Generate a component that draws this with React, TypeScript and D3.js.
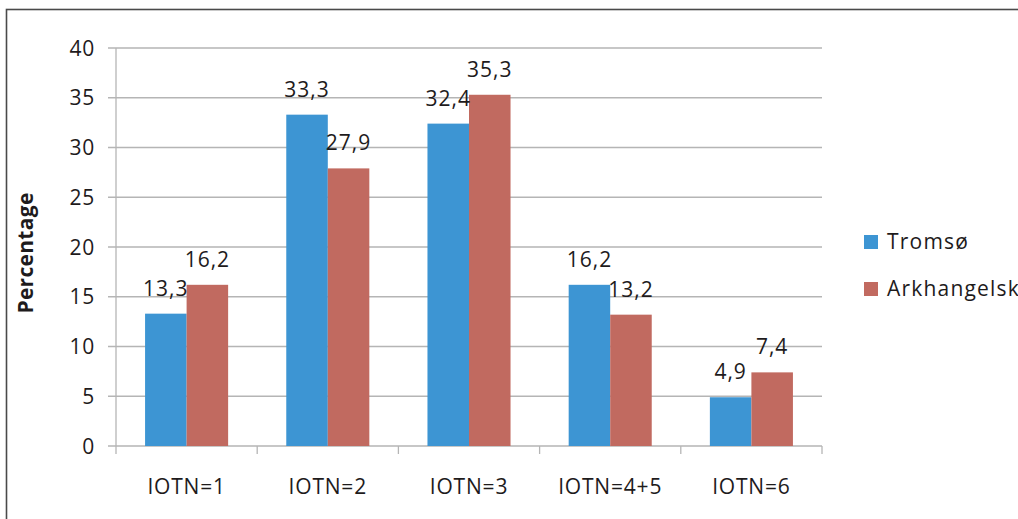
import React, { useEffect, useRef } from 'react';
import * as d3 from 'd3';

const categories = ['IOTN=1', 'IOTN=2', 'IOTN=3', 'IOTN=4+5', 'IOTN=6'];
const seriesNames = ['Tromsø', 'Arkhangelsk'];
const tromso = [13.3, 33.3, 32.4, 16.2, 4.9];
const arkhangelsk = [16.2, 27.9, 35.3, 13.2, 7.4];
const yTicks = [0, 5, 10, 15, 20, 25, 30, 35, 40];

const App = () => {
  const svgRef = useRef(null);

  useEffect(() => {
    const width = 1018;
    const height = 519;
    const svg = d3.select(svgRef.current);
    svg.selectAll('*').remove(); // Clear previous content

    const font = '"Open Sans", sans-serif';
    const textColor = '#1e1b1c';
    const gridColor = '#b5b5b5';
    const colors = d3.scaleOrdinal<string>().domain(seriesNames).range(['#3d95d3', '#c16a60']);

    const x = d3.scaleBand().domain(categories).range([116, 822]);
    const xInner = d3.scaleBand().domain(seriesNames).range([0, x.bandwidth()]).paddingOuter(0.7);
    const y = d3.scaleLinear().domain([0, 40]).range([446, 48]);

    // outer frame
    svg.append('rect')
      .attr('x', 6.5).attr('y', 9.5)
      .attr('width', width + 20).attr('height', height + 20)
      .attr('fill', 'none').attr('stroke', '#4a4a4a').attr('stroke-width', 1.6);

    // gridlines + y ticks
    const grid = svg.append('g');
    grid.selectAll('line')
      .data(yTicks)
      .enter()
      .append('line')
      .attr('x1', 108).attr('x2', 822)
      .attr('y1', (d) => y(d)).attr('y2', (d) => y(d))
      .attr('stroke', gridColor).attr('stroke-width', 1.3);

    grid.selectAll('text')
      .data(yTicks)
      .enter()
      .append('text')
      .attr('x', 95).attr('y', (d) => y(d))
      .attr('dy', '0.36em')
      .attr('text-anchor', 'end')
      .style('font-family', font).style('font-size', '21px').style('letter-spacing', '0.8px')
      .attr('fill', textColor)
      .text((d) => d);

    // y axis line
    svg.append('line')
      .attr('x1', 116).attr('x2', 116).attr('y1', y(40)).attr('y2', y(0))
      .attr('stroke', gridColor).attr('stroke-width', 1.3);

    // x axis ticks
    const bounds = categories.map((c) => x(c)).concat([822]);
    svg.append('g').selectAll('line')
      .data(bounds)
      .enter()
      .append('line')
      .attr('x1', (d) => d).attr('x2', (d) => d)
      .attr('y1', y(0)).attr('y2', y(0) + 8)
      .attr('stroke', gridColor).attr('stroke-width', 1.3);

    // bars
    const groups = svg.append('g').selectAll('g')
      .data(categories)
      .enter()
      .append('g')
      .attr('transform', (c) => `translate(${x(c)},0)`);

    const rows = (c, i) => [
      { name: seriesNames[0], value: tromso[i] },
      { name: seriesNames[1], value: arkhangelsk[i] },
    ];

    groups.selectAll('rect')
      .data(rows)
      .enter()
      .append('rect')
      .attr('x', (d) => xInner(d.name))
      .attr('y', (d) => y(d.value))
      .attr('width', xInner.bandwidth())
      .attr('height', (d) => y(0) - y(d.value))
      .attr('fill', (d) => colors(d.name));

    groups.selectAll('text')
      .data(rows)
      .enter()
      .append('text')
      .attr('x', (d) => xInner(d.name) + xInner.bandwidth() / 2)
      .attr('y', (d) => y(d.value) - 18)
      .attr('text-anchor', 'middle')
      .style('font-family', font).style('font-size', '21px').style('letter-spacing', '1px')
      .attr('fill', textColor)
      .text((d) => d3.format('.1f')(d.value).replace('.', ','));

    // category labels
    svg.append('g').selectAll('text')
      .data(categories)
      .enter()
      .append('text')
      .attr('x', (c) => x(c) + x.bandwidth() / 2)
      .attr('y', 494)
      .attr('text-anchor', 'middle')
      .style('font-family', font).style('font-size', '21px').style('letter-spacing', '0.8px')
      .attr('fill', textColor)
      .text((c) => c);

    // y label
    svg.append('text')
      .attr('transform', 'translate(33,253) rotate(-90)')
      .attr('text-anchor', 'middle')
      .style('font-family', font).style('font-size', '21px').style('font-weight', 'bold')
      .style('letter-spacing', '0.3px')
      .attr('fill', textColor)
      .text('Percentage');

    // legend
    const legend = svg.append('g').selectAll('g')
      .data(seriesNames)
      .enter()
      .append('g')
      .attr('transform', (d, i) => `translate(864,${235 + i * 47})`);

    legend.append('rect')
      .attr('width', 14).attr('height', 14)
      .attr('fill', (d) => colors(d));

    legend.append('text')
      .attr('x', 23).attr('y', 14)
      .style('font-family', font).style('font-size', '21px').style('letter-spacing', '1.2px')
      .attr('fill', textColor)
      .text((d) => d);
  }, []);

  return (
    <svg
      ref={svgRef}
      width={1018}
      height={519}
      style={{ position: 'fixed', left: 0, top: 0, background: '#fff', display: 'block' }}
    ></svg>
  );
};

export default App;
